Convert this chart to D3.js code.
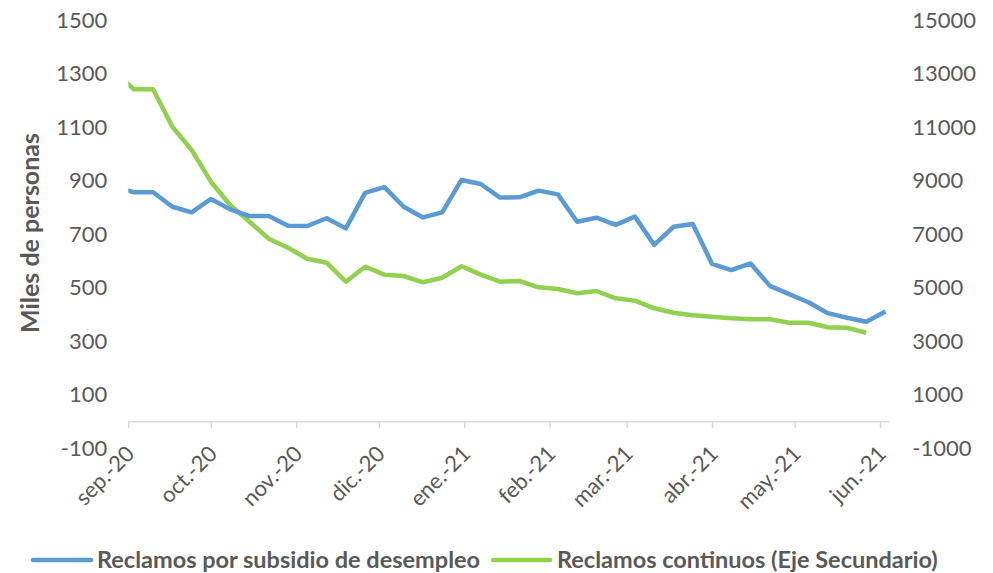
<!DOCTYPE html>
<html>
<head>
<meta charset="utf-8">
<script src="https://cdn.jsdelivr.net/npm/d3@7"></script>
<style>
  body { margin: 0; background: #fff; }
  text { font-family: Lato, "Open Sans", sans-serif; fill: #595959; }
</style>
</head>
<body>
<div class="svg-container"></div>
<script>

// weekly dates (thursdays), first one is before the axis start and gets clipped
var dates = [
  "2020-08-27", "2020-09-03", "2020-09-10", "2020-09-17", "2020-09-24",
  "2020-10-01", "2020-10-08", "2020-10-15", "2020-10-22", "2020-10-29",
  "2020-11-05", "2020-11-12", "2020-11-19", "2020-11-26", "2020-12-03",
  "2020-12-10", "2020-12-17", "2020-12-24", "2020-12-31", "2021-01-07",
  "2021-01-14", "2021-01-21", "2021-01-28", "2021-02-04", "2021-02-11",
  "2021-02-18", "2021-02-25", "2021-03-04", "2021-03-11", "2021-03-18",
  "2021-03-25", "2021-04-01", "2021-04-08", "2021-04-15", "2021-04-22",
  "2021-04-29", "2021-05-06", "2021-05-13", "2021-05-20", "2021-05-27",
  "2021-06-03"
];

// initial claims, thousands (left axis)
var reclamosIniciales = [
  878, 856, 856, 802, 781, 831, 792, 767, 767, 731,
  730, 759, 721, 854, 875, 802, 762, 781, 902, 887,
  836, 837, 862, 848, 746, 761, 734, 765, 659, 727,
  737, 588, 565, 590, 506, 475, 445, 404, 387, 372,
  410
];

// continuing claims, thousands (right axis), one week shorter
var reclamosContinuos = [
  13100, 12409, 12409, 11011, 10140, 8955, 8084, 7460, 6821, 6484,
  6073, 5927, 5217, 5778, 5479, 5430, 5194, 5363, 5793, 5479,
  5217, 5243, 5007, 4944, 4783, 4869, 4596, 4507, 4222, 4058,
  3961, 3908, 3849, 3811, 3811, 3684, 3684, 3512, 3497, 3310
];

var leftTicks = [-100, 100, 300, 500, 700, 900, 1100, 1300, 1500];
var rightTicks = [-1000, 1000, 3000, 5000, 7000, 9000, 11000, 13000, 15000];
var monthLabels = ["sep.-20", "oct.-20", "nov.-20", "dic.-20", "ene.-21",
  "feb.-21", "mar.-21", "abr.-21", "may.-21", "jun.-21"];

var seriesNames = ["Reclamos por subsidio de desempleo", "Reclamos continuos (Eje Secundario)"];
var colors = ["#5b9bd5", "#92d050"];

var width = 993, height = 573;

var svg = d3.select(".svg-container").append("svg")
  .attr("width", width)
  .attr("height", height);

var parse = d3.utcParse("%Y-%m-%d");

// date axis
var x = d3.scaleUtc()
  .domain([parse("2020-09-01"), parse("2021-06-04")])
  .range([128.3, 888.3]);

// left and right axes, same pixel range
var yL = d3.scaleLinear().domain([-100, 1500]).range([448, 20]);
var yR = d3.scaleLinear().domain([-1000, 15000]).range([448, 20]);

var axisY = yL(0);

// plain number labels, hyphen minus like the original
function plain(d) { return String(d); }

// clip lines to the plot area
svg.append("clipPath").attr("id", "plot-clip")
  .append("rect")
  .attr("x", x.range()[0])
  .attr("y", 0)
  .attr("width", x.range()[1] - x.range()[0])
  .attr("height", height);

// left axis labels
var gl = svg.append("g")
  .attr("transform", "translate(" + x.range()[0] + ",0)")
  .call(d3.axisLeft(yL).tickValues(leftTicks).tickFormat(plain).tickSize(0).tickPadding(21));
gl.select(".domain").remove();
gl.selectAll("text").style("font-size", "22px").style("fill", "#595959").style("font-family", "Lato");

// right axis labels
var gr = svg.append("g")
  .attr("transform", "translate(" + x.range()[1] + ",0)")
  .call(d3.axisRight(yR).tickValues(rightTicks).tickFormat(plain).tickSize(0).tickPadding(24));
gr.select(".domain").remove();
gr.selectAll("text").style("font-size", "22px").style("fill", "#595959").style("font-family", "Lato");

// x axis at zero
var monthTicks = d3.utcMonth.range(parse("2020-09-01"), parse("2021-06-02"));
var gx = svg.append("g")
  .attr("transform", "translate(0," + axisY + ")")
  .call(d3.axisBottom(x)
    .tickValues(monthTicks)
    .tickSize(7)
    .tickSizeOuter(0)
    .tickFormat(function (d, i) { return monthLabels[i]; }));
gx.select(".domain").attr("stroke", "#d9d9d9").attr("stroke-width", 1.5);
gx.selectAll(".tick line").attr("stroke", "#d9d9d9").attr("stroke-width", 1.5);
gx.selectAll(".tick text")
  .attr("y", 0)
  .attr("dy", 0)
  .attr("transform", "translate(7,34) rotate(-45)")
  .style("text-anchor", "end")
  .style("font-size", "22px")
  .style("fill", "#595959")
  .style("font-family", "Lato");

// y axis title
svg.append("text")
  .attr("transform", "translate(39,233) rotate(-90)")
  .style("text-anchor", "middle")
  .style("font-size", "25px")
  .style("font-weight", "bold")
  .text("Miles de personas");

// lines
var lineL = d3.line()
  .x(function (d, i) { return x(parse(dates[i])); })
  .y(function (d) { return yL(d); });

var lineR = d3.line()
  .x(function (d, i) { return x(parse(dates[i])); })
  .y(function (d) { return yR(d); });

var plot = svg.append("g").attr("clip-path", "url(#plot-clip)");

plot.append("path")
  .datum(reclamosContinuos)
  .attr("d", lineR)
  .attr("fill", "none")
  .attr("stroke", colors[1])
  .attr("stroke-width", 4.5)
  .attr("stroke-linejoin", "round");

plot.append("path")
  .datum(reclamosIniciales)
  .attr("d", lineL)
  .attr("fill", "none")
  .attr("stroke", colors[0])
  .attr("stroke-width", 4.5)
  .attr("stroke-linejoin", "round");

// legend
var legendItems = [
  {x0: 33, x1: 91, tx: 97},
  {x0: 493, x1: 550, tx: 557}
];

var legend = svg.selectAll(".legend")
  .data(seriesNames)
  .enter().append("g")
  .attr("class", "legend");

legend.append("line")
  .attr("x1", function (d, i) { return legendItems[i].x0; })
  .attr("x2", function (d, i) { return legendItems[i].x1; })
  .attr("y1", 560)
  .attr("y2", 560)
  .attr("stroke", function (d, i) { return colors[i]; })
  .attr("stroke-width", 4.5)
  .attr("stroke-linecap", "round");

legend.append("text")
  .attr("x", function (d, i) { return legendItems[i].tx; })
  .attr("y", 568)
  .style("font-size", "23.5px")
  .style("font-weight", "bold")
  .text(function (d) { return d; });

</script>
</body>
</html>
